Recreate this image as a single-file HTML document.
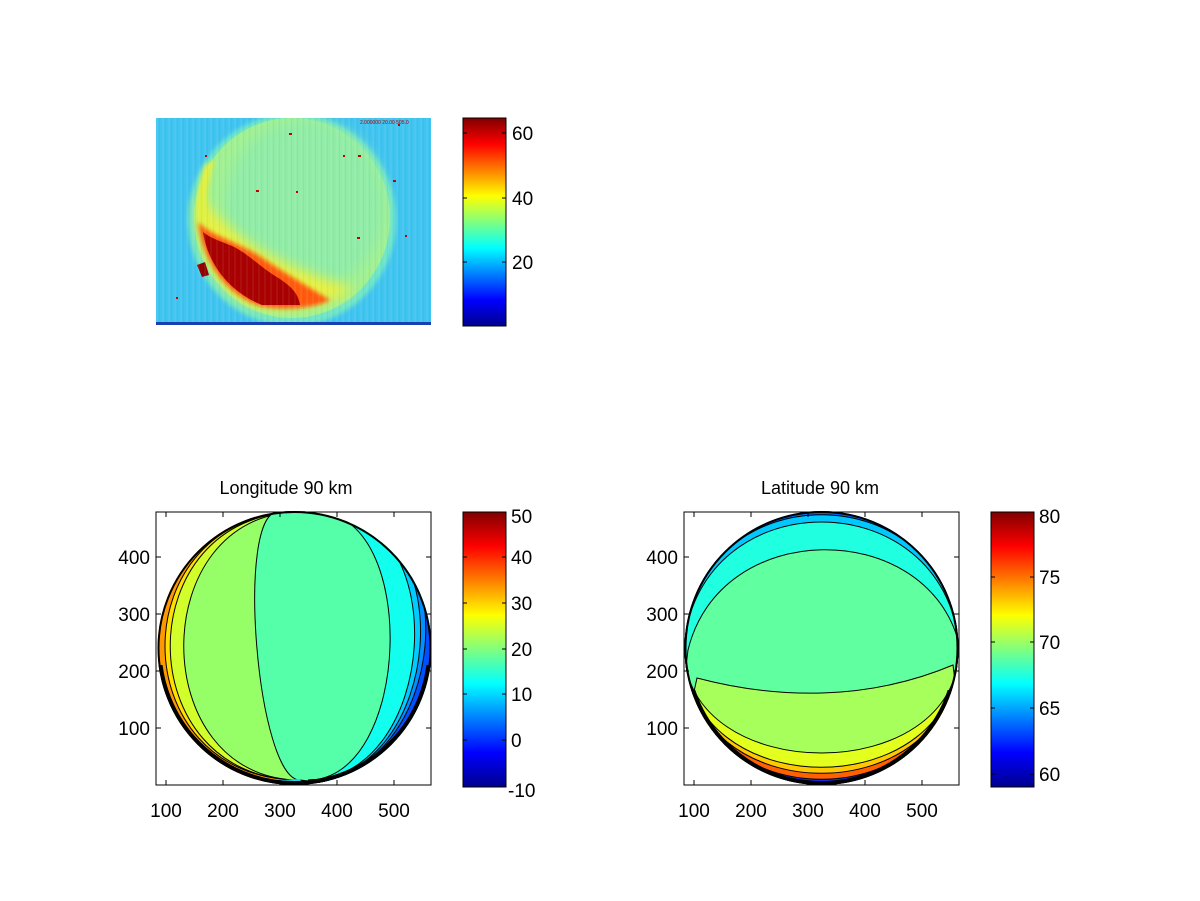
<!DOCTYPE html>
<html><head><meta charset="utf-8"><style>
html,body{margin:0;padding:0;background:#fff;}
svg{display:block;font-family:"Liberation Sans",Arial,sans-serif;}
</style></head><body>
<svg width="1200" height="901" viewBox="0 0 1200 901" xmlns="http://www.w3.org/2000/svg">
<defs>
<linearGradient id="jet" x1="0" y1="1" x2="0" y2="0">
<stop offset="0" stop-color="#00008f"/><stop offset="0.125" stop-color="#0000ff"/>
<stop offset="0.375" stop-color="#00ffff"/><stop offset="0.625" stop-color="#ffff00"/>
<stop offset="0.875" stop-color="#ff0000"/><stop offset="1" stop-color="#800000"/>
</linearGradient>
<pattern id="stripes" width="6" height="4" patternUnits="userSpaceOnUse">
<rect x="0" y="0" width="2" height="4" fill="#ffffff" opacity="0.06"/>
<rect x="3" y="0" width="1" height="4" fill="#0060ff" opacity="0.06"/>
</pattern>
<clipPath id="cL"><circle cx="294.5" cy="648" r="137"/></clipPath>
<clipPath id="cR"><circle cx="821.5" cy="648" r="137"/></clipPath>
<clipPath id="lowL"><rect x="140" y="665" width="310" height="140"/></clipPath>
<clipPath id="lowR"><rect x="670" y="690" width="310" height="120"/></clipPath>
<clipPath id="cT"><rect x="156" y="118" width="275" height="207"/></clipPath>
<filter id="bl" x="-20%" y="-20%" width="140%" height="140%"><feGaussianBlur stdDeviation="6"/></filter>
<filter id="bl2"><feGaussianBlur stdDeviation="2"/></filter>
</defs>

<!-- TOP IMAGE -->
<g clip-path="url(#cT)">
<rect x="156" y="118" width="275" height="207" fill="#40c4f0"/>
<ellipse cx="292" cy="220" rx="104" ry="106" fill="#6ee6c8" filter="url(#bl2)"/>
<ellipse cx="292" cy="218" rx="98" ry="100" fill="#a0f092"/>
<ellipse cx="305" cy="205" rx="80" ry="85" fill="#90eca6" filter="url(#bl)"/>
<path d="M198,195 C193,240 213,290 250,305 C280,315 330,305 355,290 C330,280 290,268 258,248 C232,232 212,212 198,195Z" fill="#e8f040" filter="url(#bl)"/>
<path d="M205,165 C195,190 196,215 200,230 L210,225 C205,205 207,185 215,160Z" fill="#e0f040" filter="url(#bl2)"/>
<path d="M198,222 C203,262 225,294 260,306 C290,312 320,306 330,300 C305,285 280,270 258,255 C232,240 210,235 198,222Z" fill="#ff5a10" filter="url(#bl2)"/>
<path d="M203,232 C208,265 230,292 262,305 L300,305 C298,290 285,282 272,274 C255,262 245,252 232,246 C220,241 210,238 203,232Z" fill="#a80000"/>
<path d="M197,265 L205,262 L209,275 L202,277Z" fill="#900000"/>
<rect x="156" y="118" width="275" height="204" fill="url(#stripes)"/>
<rect x="156" y="322" width="275" height="3" fill="#1a3fb0"/>
<g fill="#c00000">
<rect x="289" y="133" width="3" height="2"/><rect x="256" y="190" width="3" height="2"/><rect x="358" y="155" width="3" height="2"/>
<rect x="343" y="155" width="2" height="2"/><rect x="398" y="124" width="2" height="2"/><rect x="357" y="237" width="3" height="2"/>
<rect x="176" y="297" width="2" height="2"/><rect x="205" y="155" width="2" height="2"/><rect x="393" y="180" width="3" height="2"/>
<rect x="296" y="191" width="2" height="2"/><rect x="225" y="250" width="2" height="2"/><rect x="405" y="235" width="2" height="2"/>
</g>
<text x="360" y="124" font-size="5" fill="#a00000">2.000000 20.00 505.0</text>
</g>
<rect x="463" y="118" width="43" height="208" fill="url(#jet)" stroke="#000" stroke-width="1"/>
<g stroke="#000" stroke-width="1">
<line x1="463" y1="133" x2="467" y2="133"/><line x1="502" y1="133" x2="506" y2="133"/>
<line x1="463" y1="198" x2="467" y2="198"/><line x1="502" y1="198" x2="506" y2="198"/>
<line x1="463" y1="262" x2="467" y2="262"/><line x1="502" y1="262" x2="506" y2="262"/>
</g>
<g font-size="19" fill="#000">
<text x="512" y="140">60</text><text x="512" y="205">40</text><text x="512" y="269">20</text>
</g>

<!-- LEFT BOTTOM -->
<text x="286" y="494" font-size="18" text-anchor="middle">Longitude 90 km</text>
<g clip-path="url(#cL)">
<rect x="150" y="505" width="290" height="290" fill="#ff9800"/>
<path d="M300,780 C120,780 120,512 300,512 L460,500 L460,800 Z" fill="#ffdf00" stroke="#000"/>
<path d="M300,780 C127,780 127,512 300,512 L460,500 L460,800 Z" fill="#d2ff2c" stroke="#000"/>
<path d="M300,780 C145,780 145,512 300,512 L460,500 L460,800 Z" fill="#96ff68" stroke="#000"/>
<path d="M300,780 C257,780 235,512 278,512 L460,500 L460,800 Z" fill="#55ffaa" stroke="#000"/>
<path d="M308,780 C412,780 420,512 316,512 L470,500 L470,800 Z" fill="#12fff0" stroke="#000"/>
<path d="M308,780 C439,780 455,512 324,512 L470,500 L470,800 Z" fill="#00ccff" stroke="#000"/>
<path d="M308,780 C444,780 464,512 328,512 L470,500 L470,800 Z" fill="#0090ff" stroke="#000"/>
<path d="M308,780 C448,780 472,512 332,512 L470,500 L470,800 Z" fill="#0050ff" stroke="#000"/>
<path d="M265,781 L300,779 L305,790 L260,790 Z" fill="#20e0ff"/>
</g>
<circle cx="294.5" cy="648" r="136" fill="none" stroke="#000" stroke-width="2"/>
<circle cx="294.5" cy="648" r="135" fill="none" stroke="#000" stroke-width="4" clip-path="url(#lowL)"/>
<rect x="156" y="512" width="275" height="273" fill="none" stroke="#000" stroke-width="1"/>
<g stroke="#000" stroke-width="1">
<line x1="166" y1="785" x2="166" y2="780"/><line x1="223" y1="785" x2="223" y2="780"/><line x1="280" y1="785" x2="280" y2="780"/><line x1="337" y1="785" x2="337" y2="780"/><line x1="394" y1="785" x2="394" y2="780"/>
<line x1="166" y1="512" x2="166" y2="517"/><line x1="223" y1="512" x2="223" y2="517"/><line x1="280" y1="512" x2="280" y2="517"/><line x1="337" y1="512" x2="337" y2="517"/><line x1="394" y1="512" x2="394" y2="517"/>
<line x1="156" y1="728" x2="161" y2="728"/><line x1="156" y1="671" x2="161" y2="671"/><line x1="156" y1="614" x2="161" y2="614"/><line x1="156" y1="557" x2="161" y2="557"/>
<line x1="431" y1="728" x2="426" y2="728"/><line x1="431" y1="671" x2="426" y2="671"/><line x1="431" y1="614" x2="426" y2="614"/><line x1="431" y1="557" x2="426" y2="557"/>
</g>
<g font-size="19" text-anchor="middle">
<text x="166" y="817">100</text><text x="223" y="817">200</text><text x="280" y="817">300</text><text x="337" y="817">400</text><text x="394" y="817">500</text>
</g>
<g font-size="19" text-anchor="end">
<text x="150" y="735">100</text><text x="150" y="678">200</text><text x="150" y="621">300</text><text x="150" y="564">400</text>
</g>
<rect x="463" y="512" width="43" height="275" fill="url(#jet)" stroke="#000" stroke-width="1"/>
<g stroke="#000" stroke-width="1">
<line x1="463" y1="557" x2="467" y2="557"/><line x1="502" y1="557" x2="506" y2="557"/>
<line x1="463" y1="603" x2="467" y2="603"/><line x1="502" y1="603" x2="506" y2="603"/>
<line x1="463" y1="649" x2="467" y2="649"/><line x1="502" y1="649" x2="506" y2="649"/>
<line x1="463" y1="694" x2="467" y2="694"/><line x1="502" y1="694" x2="506" y2="694"/>
<line x1="463" y1="740" x2="467" y2="740"/><line x1="502" y1="740" x2="506" y2="740"/>
</g>
<g font-size="19">
<text x="511" y="523">50</text><text x="511" y="564">40</text><text x="511" y="610">30</text><text x="511" y="656">20</text><text x="511" y="701">10</text><text x="511" y="747">0</text><text x="508" y="797">-10</text>
</g>

<!-- RIGHT BOTTOM -->
<text x="820" y="494" font-size="18" text-anchor="middle">Latitude 90 km</text>
<g clip-path="url(#cR)">
<rect x="680" y="505" width="285" height="290" fill="#0070ff"/>
<path d="M684,640 C700,473 943,473 959,640 L970,800 L670,800 Z" fill="#00c8ff" stroke="#000"/>
<path d="M684,645 C700,481 943,481 959,645 L970,800 L670,800 Z" fill="#20ffe0" stroke="#000"/>
<path d="M688,650 C720,518 923,518 958,640 L970,800 L670,800 Z" fill="#60ffa0" stroke="#000"/>
<path d="M697,678 C780,700 870,700 953,665 L970,800 L670,800 Z" fill="#a6ff5a" stroke="#000"/>
<path d="M684,648 C684,788 959,788 959,648 L975,648 L975,800 L670,800 L670,648 Z" fill="#e2ff1e" stroke="#000"/>
<path d="M684,648 C684,807 959,807 959,648 L975,648 L975,800 L670,800 L670,648 Z" fill="#ffc800" stroke="#000"/>
<path d="M684,648 C684,815 959,815 959,648 L975,648 L975,800 L670,800 L670,648 Z" fill="#ff6000" stroke="#000"/>
<path d="M684,648 C684,823 959,823 959,648 L975,648 L975,800 L670,800 L670,648 Z" fill="#1030ff" stroke="#000"/>
</g>
<circle cx="821.5" cy="648" r="136" fill="none" stroke="#000" stroke-width="2"/>
<circle cx="821.5" cy="648" r="135" fill="none" stroke="#000" stroke-width="4" clip-path="url(#lowR)"/>
<rect x="684" y="512" width="275" height="273" fill="none" stroke="#000" stroke-width="1"/>
<g stroke="#000" stroke-width="1">
<line x1="694" y1="785" x2="694" y2="780"/><line x1="751" y1="785" x2="751" y2="780"/><line x1="808" y1="785" x2="808" y2="780"/><line x1="865" y1="785" x2="865" y2="780"/><line x1="922" y1="785" x2="922" y2="780"/>
<line x1="694" y1="512" x2="694" y2="517"/><line x1="751" y1="512" x2="751" y2="517"/><line x1="808" y1="512" x2="808" y2="517"/><line x1="865" y1="512" x2="865" y2="517"/><line x1="922" y1="512" x2="922" y2="517"/>
<line x1="684" y1="728" x2="689" y2="728"/><line x1="684" y1="671" x2="689" y2="671"/><line x1="684" y1="614" x2="689" y2="614"/><line x1="684" y1="557" x2="689" y2="557"/>
<line x1="959" y1="728" x2="954" y2="728"/><line x1="959" y1="671" x2="954" y2="671"/><line x1="959" y1="614" x2="954" y2="614"/><line x1="959" y1="557" x2="954" y2="557"/>
</g>
<g font-size="19" text-anchor="middle">
<text x="694" y="817">100</text><text x="751" y="817">200</text><text x="808" y="817">300</text><text x="865" y="817">400</text><text x="922" y="817">500</text>
</g>
<g font-size="19" text-anchor="end">
<text x="678" y="735">100</text><text x="678" y="678">200</text><text x="678" y="621">300</text><text x="678" y="564">400</text>
</g>
<rect x="991" y="512" width="43" height="275" fill="url(#jet)" stroke="#000" stroke-width="1"/>
<g stroke="#000" stroke-width="1">
<line x1="991" y1="577" x2="995" y2="577"/><line x1="1030" y1="577" x2="1034" y2="577"/>
<line x1="991" y1="642" x2="995" y2="642"/><line x1="1030" y1="642" x2="1034" y2="642"/>
<line x1="991" y1="708" x2="995" y2="708"/><line x1="1030" y1="708" x2="1034" y2="708"/>
<line x1="991" y1="774" x2="995" y2="774"/><line x1="1030" y1="774" x2="1034" y2="774"/>
</g>
<g font-size="19">
<text x="1039" y="523">80</text><text x="1039" y="584">75</text><text x="1039" y="649">70</text><text x="1039" y="715">65</text><text x="1039" y="781">60</text>
</g>
</svg>
</body></html>
